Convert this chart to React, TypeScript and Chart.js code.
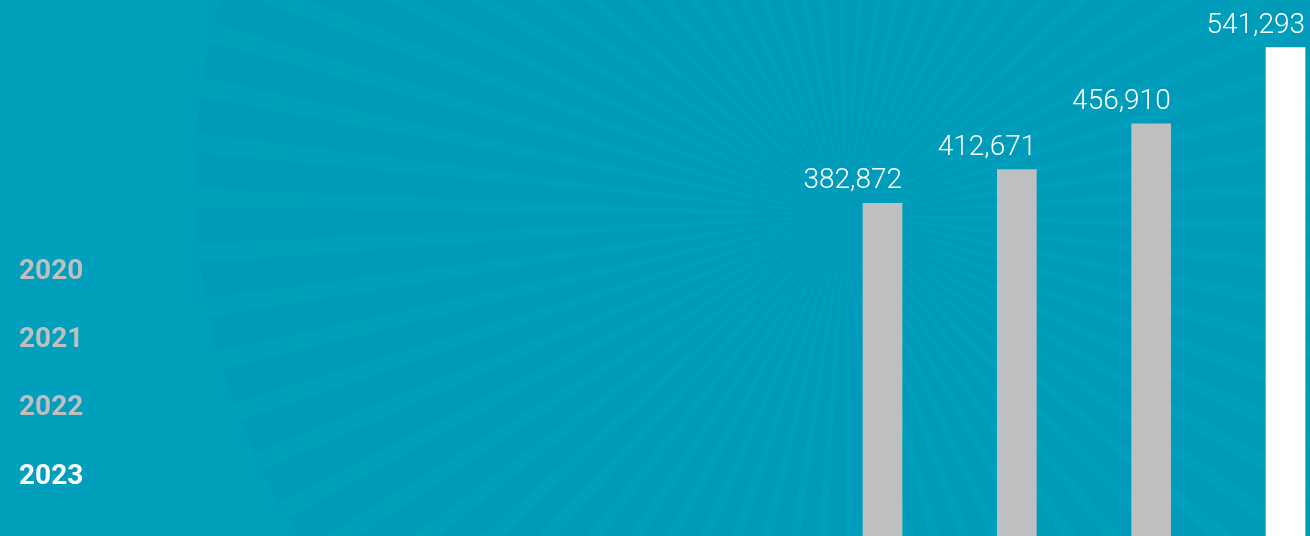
import React, { useEffect, useRef } from "react";
import { Chart, registerables } from "chart.js";

Chart.register(...registerables);

// ---- data ----
const years: string[] = ["2020", "2021", "2022", "2023"];
const values: number[] = [382872, 412671, 456910, 541293];
const barColors: string[] = ["#BEBFC1", "#BEBFC1", "#BEBFC1", "#FFFFFF"];
const yearColors: string[] = ["#BEBFC1", "#BEBFC1", "#BEBFC1", "#FFFFFF"];

const W = 1310;
const H = 536;

const backgroundPlugin = {
  id: "sunburst",
  beforeDraw(chart: any) {
    const ctx = chart.ctx as CanvasRenderingContext2D;
    const light = "#009FBC";
    const dark = "#009BB9";
    ctx.save();
    ctx.fillStyle = light;
    ctx.fillRect(0, 0, chart.width, chart.height);
    // disk
    const dcx = 855, dcy = 180, R = 660;
    ctx.beginPath();
    ctx.arc(dcx, dcy, R, 0, Math.PI * 2);
    ctx.closePath();
    ctx.fillStyle = dark;
    ctx.fill();
    ctx.clip();
    // rays
    const rcx = 845, rcy = 215;
    const N = 74;
    const period = (Math.PI * 2) / N;
    const frac = 0.36;
    const start = (181.5 * Math.PI) / 180;
    ctx.fillStyle = light;
    for (let i = 0; i < N; i++) {
      const c = start + i * period;
      const a0 = c - (period * frac) / 2;
      const a1 = c + (period * frac) / 2;
      ctx.beginPath();
      ctx.moveTo(rcx, rcy);
      ctx.lineTo(rcx + Math.cos(a0) * 2000, rcy + Math.sin(a0) * 2000);
      ctx.lineTo(rcx + Math.cos(a1) * 2000, rcy + Math.sin(a1) * 2000);
      ctx.closePath();
      ctx.fill();
    }
    ctx.restore();
  },
};

const labelsPlugin = {
  id: "valueLabels",
  afterDatasetsDraw(chart: any) {
    const ctx = chart.ctx as CanvasRenderingContext2D;
    const meta = chart.getDatasetMeta(0);
    ctx.save();
    ctx.font = "300 28px Roboto";
    ctx.fillStyle = "#FFFFFF";
    ctx.textAlign = "right";
    ctx.textBaseline = "alphabetic";
    meta.data.forEach((bar: any, i: number) => {
      const p = bar.getProps(["x", "y", "width"], true);
      ctx.fillText(values[i].toLocaleString("en-US"), p.x + p.width / 2, p.y - 15);
    });
    // year list on the left
    ctx.font = "bold 28px Roboto";
    ctx.textAlign = "left";
    years.forEach((yr, i) => {
      ctx.fillStyle = yearColors[i];
      ctx.fillText(yr, 19, 279 + i * 68.2);
    });
    ctx.restore();
  },
};

export default function App() {
  const ref = useRef<HTMLCanvasElement | null>(null);

  useEffect(() => {
    document.body.style.margin = "0";
    const canvas = ref.current;
    if (!canvas) return;
    const chart = new Chart(canvas, {
      type: "bar",
      data: {
        labels: years,
        datasets: [
          {
            data: values,
            backgroundColor: barColors,
            borderWidth: 0,
            barThickness: 39,
            clip: false as any,
          },
        ],
      },
      options: {
        animation: false,
        responsive: false,
        devicePixelRatio: 1,
        layout: { padding: { left: 882.5, right: W - 1285.5, top: 0, bottom: 0 } },
        plugins: {
          legend: { display: false },
          tooltip: { enabled: false },
        },
        scales: {
          x: {
            type: "category",
            offset: false,
            display: false,
            grid: { display: false },
          },
          y: {
            type: "logarithmic",
            min: 182700,
            max: 601600,
            display: false,
            grid: { display: false },
          },
        },
      },
      plugins: [backgroundPlugin, labelsPlugin],
    });
    return () => chart.destroy();
  }, []);

  return (
    <div style={{ position: "fixed", left: 0, top: 0, width: W, height: H, overflow: "hidden" }}>
      <canvas ref={ref} width={W} height={H} style={{ width: W, height: H, display: "block" }} />
    </div>
  );
}
